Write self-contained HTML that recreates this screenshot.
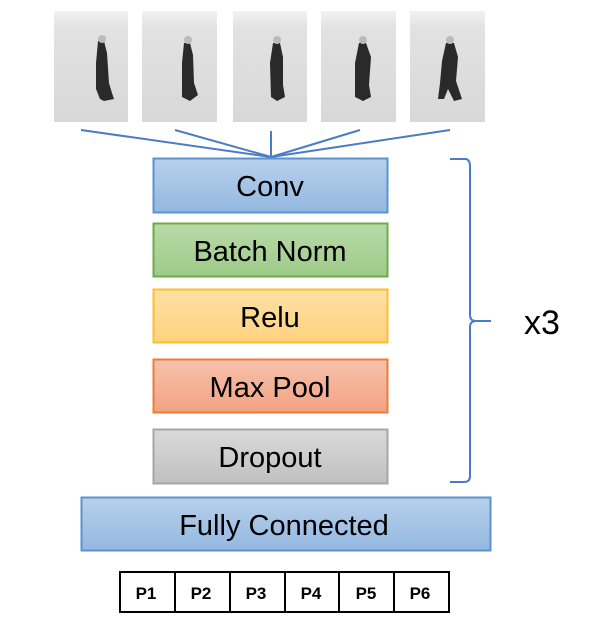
<!DOCTYPE html>
<html><head><meta charset="utf-8"><style>
body{margin:0;background:#fff;width:594px;height:636px;overflow:hidden;font-family:"Liberation Sans",sans-serif}
svg{display:block}
text{font-family:"Liberation Sans",sans-serif}
</style></head><body>
<svg width="594" height="636" viewBox="0 0 594 636">
<defs>
<linearGradient id="gb" x1="0" y1="0" x2="0" y2="1"><stop offset="0" stop-color="#b8d0eb"/><stop offset="1" stop-color="#93b8e1"/></linearGradient>
<linearGradient id="gg" x1="0" y1="0" x2="0" y2="1"><stop offset="0" stop-color="#b9daa9"/><stop offset="1" stop-color="#9ecb88"/></linearGradient>
<linearGradient id="gy" x1="0" y1="0" x2="0" y2="1"><stop offset="0" stop-color="#ffe0a6"/><stop offset="1" stop-color="#ffd27f"/></linearGradient>
<linearGradient id="go" x1="0" y1="0" x2="0" y2="1"><stop offset="0" stop-color="#f6c2ab"/><stop offset="1" stop-color="#f2a283"/></linearGradient>
<linearGradient id="gd" x1="0" y1="0" x2="0" y2="1"><stop offset="0" stop-color="#dadada"/><stop offset="1" stop-color="#c0c0c0"/></linearGradient>
<linearGradient id="gi" x1="0" y1="0" x2="0" y2="1"><stop offset="0" stop-color="#f2f2f2"/><stop offset="0.15" stop-color="#e2e2e2"/><stop offset="1" stop-color="#d8d8d8"/></linearGradient>
</defs>
<g>
<g transform="translate(54,11)"><rect width="74" height="111" fill="url(#gi)"/><path d="M44 30 L50 30 L53 42 L55 72 L58 82 L60 88 L50 90 L46 88 L42 78 L42 52 Z" fill="#2a2a2a"/><circle cx="48" cy="28" r="4" fill="#bbb"/></g>
<g transform="translate(142,11)"><rect width="75" height="111" fill="url(#gi)"/><path d="M42 32 L48 32 L51 44 L52 72 L56 84 L48 90 L40 86 L40 52 Z" fill="#2a2a2a"/><circle cx="46" cy="29" r="4" fill="#bbb"/></g>
<g transform="translate(233,11)"><rect width="74" height="111" fill="url(#gi)"/><path d="M40 32 L47 32 L50 46 L50 74 L52 86 L44 90 L38 86 L37 52 Z" fill="#2a2a2a"/><circle cx="44" cy="29" r="4" fill="#bbb"/></g>
<g transform="translate(321,11)"><rect width="75" height="111" fill="url(#gi)"/><path d="M38 32 L45 32 L50 46 L48 74 L50 86 L42 90 L34 86 L34 52 Z" fill="#2a2a2a"/><circle cx="42" cy="29" r="4" fill="#bbb"/></g>
<g transform="translate(410,11)"><rect width="75" height="111" fill="url(#gi)"/><path d="M36 32 L44 32 L48 46 L46 70 L52 88 L44 90 L38 78 L34 88 L28 88 L30 72 L32 50 Z" fill="#2a2a2a"/><circle cx="40" cy="29" r="4" fill="#bbb"/></g>
</g>
<g stroke="#4a7cc6" stroke-width="2" fill="none">
<line x1="81" y1="130" x2="271" y2="157"/><line x1="175" y1="130" x2="271" y2="157"/><line x1="271" y1="131" x2="271" y2="157"/><line x1="360" y1="130" x2="271" y2="157"/><line x1="450" y1="130" x2="271" y2="157"/>
</g>
<g><rect x="153.5" y="158.5" width="234" height="54" fill="url(#gb)" stroke="#5b93d0" stroke-width="2"/><text x="270" y="196" font-size="29" text-anchor="middle">Conv</text></g>
<g><rect x="153.5" y="223.5" width="234" height="53" fill="url(#gg)" stroke="#6eaa4a" stroke-width="2"/><text x="270" y="261" font-size="29" text-anchor="middle">Batch Norm</text></g>
<g><rect x="153.5" y="289.5" width="234" height="53" fill="url(#gy)" stroke="#fbc02d" stroke-width="2"/><text x="270" y="327" font-size="29" text-anchor="middle">Relu</text></g>
<g><rect x="153.5" y="359.5" width="234" height="53" fill="url(#go)" stroke="#ec7c3a" stroke-width="2"/><text x="270" y="397" font-size="29" text-anchor="middle">Max Pool</text></g>
<g><rect x="153.5" y="429.5" width="234" height="54" fill="url(#gd)" stroke="#a6a6a6" stroke-width="2"/><text x="270" y="467" font-size="29" text-anchor="middle">Dropout</text></g>
<path d="M450 159 L466 159 Q470 160 470 166 L470 315 Q470 321 476 321 L491 321 M476 321 Q470 321 470 327 L470 476 Q470 482 464 482 L450 482" stroke="#4a7cc6" stroke-width="2" fill="none"/>
<text x="524" y="334" font-size="34">x3</text>
<g><rect x="81.5" y="497.5" width="409" height="53" fill="url(#gb)" stroke="#5b93d0" stroke-width="2"/><text x="284" y="535" font-size="29" text-anchor="middle">Fully Connected</text></g>
<g font-size="17" font-weight="bold" text-anchor="middle">
<rect x="120" y="572" width="329" height="40" fill="#fff" stroke="#000" stroke-width="2"/>
<line x1="175" y1="572" x2="175" y2="612" stroke="#000" stroke-width="2"/><line x1="230" y1="572" x2="230" y2="612" stroke="#000" stroke-width="2"/><line x1="285" y1="572" x2="285" y2="612" stroke="#000" stroke-width="2"/><line x1="339" y1="572" x2="339" y2="612" stroke="#000" stroke-width="2"/><line x1="394" y1="572" x2="394" y2="612" stroke="#000" stroke-width="2"/>
<text x="146" y="599">P1</text><text x="201" y="599">P2</text><text x="256" y="599">P3</text><text x="311" y="599">P4</text><text x="366" y="599">P5</text><text x="420" y="599">P6</text>
</g>
</svg>
</body></html>
